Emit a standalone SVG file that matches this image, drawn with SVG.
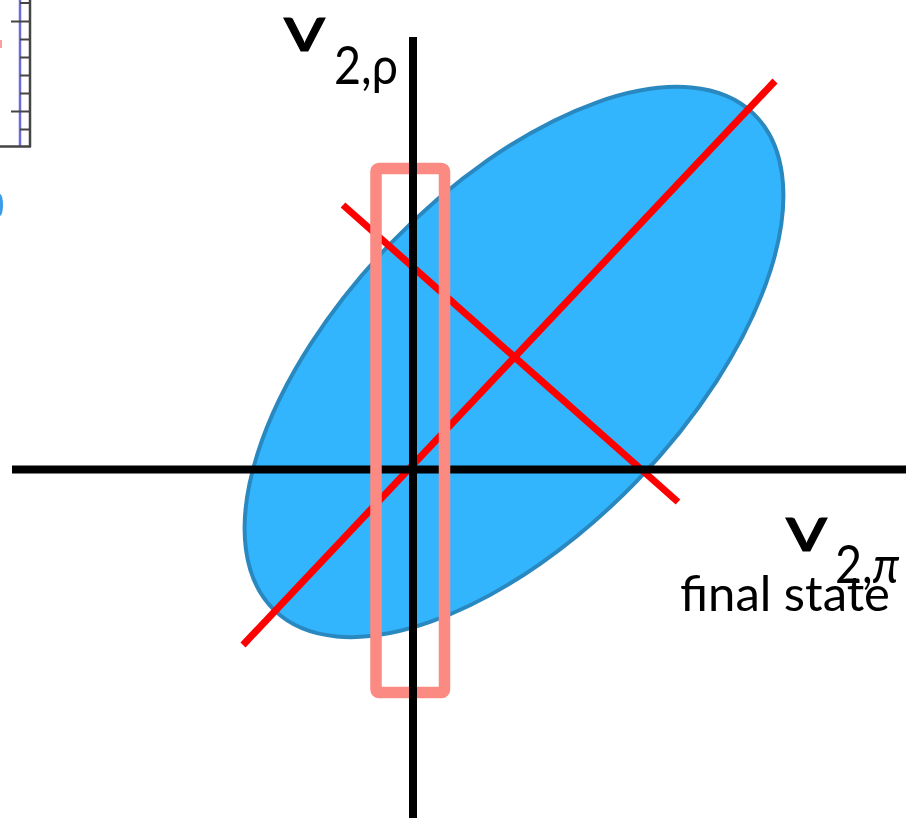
<svg xmlns="http://www.w3.org/2000/svg" width="916" height="818" viewBox="0 0 916 818">
<defs>
<style>
.axis{stroke:#000;stroke-width:8;fill:none}
.red{stroke:#ff0000;stroke-width:7;fill:none}
.lbl{font-family:"Lato","Liberation Sans",sans-serif;fill:#000}
.v{font-size:64px;stroke:#000;stroke-width:1px}
.sub{font-size:53px}
.tick{stroke:#444;stroke-width:2}
</style>
</defs>
<rect width="916" height="818" fill="#fff"/>
<g id="corner-fragment">
<line x1="20" y1="0" x2="20" y2="147" stroke="#6a6ad8" stroke-width="2.5"/>
<line x1="30" y1="0" x2="30" y2="147" stroke="#444" stroke-width="2.5"/>
<line x1="0" y1="146.5" x2="31" y2="146.5" stroke="#444" stroke-width="2.5"/>
<g class="tick">
<line x1="20" y1="3" x2="30" y2="3"/>
<line x1="11" y1="21.5" x2="30" y2="21.5"/>
<line x1="20" y1="39.5" x2="30" y2="39.5"/>
<line x1="20" y1="57.5" x2="30" y2="57.5"/>
<line x1="20" y1="75.5" x2="30" y2="75.5"/>
<line x1="20" y1="93.5" x2="30" y2="93.5"/>
<line x1="11" y1="111.5" x2="30" y2="111.5"/>
<line x1="20" y1="129.5" x2="30" y2="129.5"/>
</g>
<rect x="0" y="40" width="2" height="8" fill="#f6a0a0"/>
<ellipse cx="0" cy="205" rx="3" ry="11" fill="#3a9be8"/>
</g>
<g id="ellipse">
<ellipse cx="514" cy="362" rx="345" ry="171" transform="rotate(-46 514 362)" fill="#33b5fd" stroke="#2a88c0" stroke-width="4"/>
</g>
<g id="connectors">
<line id="major-axis" class="red" x1="243" y1="645" x2="775" y2="81"/>
<line id="minor-axis" class="red" x1="343" y1="205" x2="678" y2="502"/>
<line id="x-axis" class="axis" x1="12" y1="469.5" x2="906" y2="469.5"/>
</g>
<g id="window">
<rect x="376" y="168.5" width="68.5" height="524" rx="3" fill="none" stroke="#fa8a82" stroke-width="11.5"/>
</g>
<g id="y-axis-group">
<line id="y-axis" class="axis" x1="413" y1="37" x2="413" y2="818"/>
</g>
<g id="label-rho">
<text class="lbl v" transform="translate(283,51) scale(1.3,1)">v</text>
<text class="lbl sub" transform="translate(334,84) scale(0.88,1)">2,ρ</text>
</g>
<g id="label-pi">
<text class="lbl v" transform="translate(785,551) scale(1.3,1)">v</text>
<text class="lbl sub" transform="translate(835,583) scale(0.88,1)">2,<tspan font-style="italic">π</tspan></text>
<text class="lbl" x="890" y="611" font-size="49" text-anchor="end">final state</text>
</g>
</svg>
